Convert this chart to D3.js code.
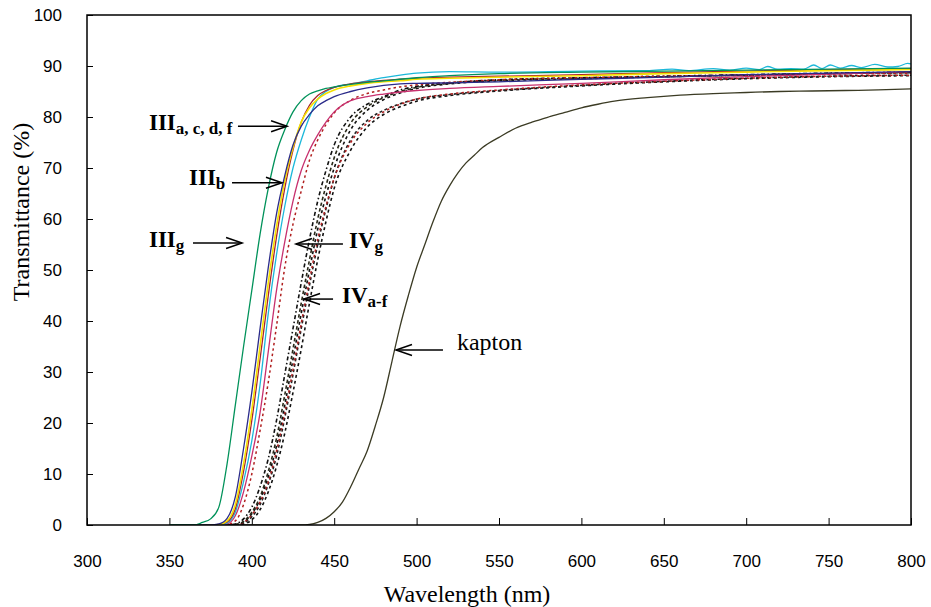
<!DOCTYPE html>
<html><head><meta charset="utf-8">
<script src="https://cdn.jsdelivr.net/npm/d3@7"></script>
<style>body{margin:0;background:#fff}</style>
</head><body>
<svg id="chart" width="931" height="607"></svg>
<script>
// ---------- data ----------
const wavelengths = [350,365,370,375,380,385,390,395,400,405,410,415,420,425,430,435,440,445,450,460,470,480,490,500,520,550,600,650,700,750,800];
const xTicks = [300,350,400,450,500,550,600,650,700,750,800];
const yTicks = [0,10,20,30,40,50,60,70,80,90,100];

const IIIg = [0,0,0.5,1.2,3.5,12,23.5,35,46,57,66,73,77.5,81,83.2,84.5,85.1,85.6,85.9,86.4,86.8,87.1,87.4,87.7,88.1,88.5,88.8,89.0,89.2,89.4,89.6];
const IIIa = [0,0,0,0,0.2,1.3,5.5,15,26,38.5,50.5,61,68.5,74.5,78.2,80.5,82.2,83.2,84,85,85.7,86.2,86.5,86.6,86.7,86.9,87.4,87.8,88.3,88.6,88.9];
const IIIc = [0,0,0,0,0.1,0.8,4,12,22.5,35,47.5,58.5,67.5,74,79,81.8,83.5,84.6,85.3,86.1,86.6,86.9,87.1,87.4,87.6,87.8,88.1,88.5,88.8,89.1,89.3];
const IIId = [0,0,0,0,0.1,0.6,3.2,10.5,20.5,32.5,45,56.5,66,73.5,79,82.3,84.2,85.2,85.8,86.5,86.9,87.2,87.4,87.6,87.8,88.0,88.3,88.7,89.0,89.3,89.5];
const IIIb = [0,0,0,0,0,0.2,1.8,6.5,13.5,22,34,46,55.5,63.5,69.5,73.5,76.5,79,81,83.2,84,84.5,84.9,85.2,85.6,86,86.6,87.3,87.9,88.4,88.9];

const wavelengthsIIIf = [350,365,370,375,380,385,390,395,400,405,410,415,420,425,430,435,440,445,450,460,470,480,490,500,520,550,600,640,655,665,680,690,700,708,713,719,727,735,741,746,751,757,764,770,778,786,792,798,800];
const IIIf = [0,0,0,0,0,0.4,2.5,8.5,16.5,27.5,41.5,53,62.5,70,75.5,80,83.5,85,85.8,86.5,87.1,87.7,88.2,88.6,88.9,88.8,89.0,89.1,89.4,89.1,89.5,89.2,89.6,89.3,89.9,89.4,89.5,89.4,90.2,89.5,90.2,89.6,90.1,89.7,90.3,89.8,89.9,90.5,90.4];

const IVg = [0,0,0,0,0,0.1,0.8,4,10,18.5,28,39,50.5,59,65.5,71.5,75.5,78.5,80.8,83.3,84.6,85.3,85.9,86.3,86.8,87.3,87.7,88,88.2,88.4,88.6];
const IVa = [0,0,0,0,0,0,0.2,1.2,3.5,7.5,13,20.5,29.5,38.5,47.5,56,63.5,69.5,74.5,80,82.5,84,85.3,86,86.7,87.3,87.7,88,88.3,88.6,88.8];
const IVb = [0,0,0,0,0,0,0.1,0.7,2.5,5.5,10.5,17,25.5,34.5,43.5,52,60,66.5,72,78.8,82,83.8,85,85.8,86.6,87.2,87.6,87.9,88.2,88.5,88.7];
const IVc = [0,0,0,0,0,0,0,0.5,2,4.5,8.5,14.5,22,30.5,39.5,48,56,62.5,68,75,78.8,81,82.5,83.5,84.5,85.3,86.3,87,87.6,88,88.2];
const IVd = [0,0,0,0,0,0,0,0.4,1.6,4,8,13.5,21,29.5,38.5,47,55,62,68,75.5,79.3,81.3,82.6,83.5,84.4,85.2,86.2,87,87.6,88,88.2];
const IVe = [0,0,0,0,0,0,0,0.2,1,3,6.5,11.5,18,26,34.5,43.5,52,59.5,66,73.5,78,80.5,82,83.1,84.2,85.1,86.1,86.9,87.5,87.9,88.1];
const IVf = [0,0,0,0,0,0,0.1,0.6,2.2,5,9.5,15.5,23.5,32.5,41.5,50,58,64.5,70,77.5,81.3,83.4,84.7,85.6,86.5,87.1,87.5,87.9,88.2,88.5,88.7];

const wavelengthsKapton = [350,430,435,440,445,450,455,460,465,470,475,480,485,490,495,500,505,510,515,520,525,530,535,540,550,560,570,580,590,600,610,620,640,660,680,700,720,740,760,780,800];
const kapton = [0,0,0.1,0.5,1.3,2.6,4.5,7.5,11,14.5,19.5,25,32,39,45,50.5,55,59.5,63.5,66.5,69,71,72.5,74,76,77.8,79,80,80.9,81.8,82.5,83.1,83.8,84.3,84.6,84.8,85.0,85.1,85.2,85.3,85.5];

// ---------- chart ----------
const W = 931, H = 607;
const m = {left: 87, top: 15, right: 20, bottom: 82};
const svg = d3.select('#chart');
const x = d3.scaleLinear().domain([300, 800]).range([m.left, W - m.right]);
const y = d3.scaleLinear().domain([0, 100]).range([H - m.bottom, m.top]);

svg.append('defs').append('clipPath').attr('id', 'clip')
  .append('rect').attr('x', m.left).attr('y', m.top - 2)
  .attr('width', W - m.left - m.right).attr('height', H - m.top - m.bottom + 2);

const sans = "'Liberation Sans', Arial, sans-serif";
const serif = "'Liberation Serif', 'Times New Roman', serif";

// axes
const xAxis = svg.append('g').attr('transform', `translate(0,${H - m.bottom})`)
  .call(d3.axisBottom(x).tickValues(xTicks).tickSizeInner(-7).tickSizeOuter(0).tickPadding(30));
xAxis.select('.domain').remove();
xAxis.selectAll('text').attr('font-family', sans).attr('font-size', 17).attr('fill', '#000');
xAxis.selectAll('line').attr('stroke', '#000');

const yAxis = svg.append('g').attr('transform', `translate(${m.left},0)`)
  .call(d3.axisLeft(y).tickValues(yTicks).tickSizeInner(-6).tickSizeOuter(0).tickPadding(25));
yAxis.select('.domain').remove();
yAxis.selectAll('text').attr('font-family', sans).attr('font-size', 17).attr('fill', '#000');
yAxis.selectAll('line').attr('stroke', '#000');

// series
const series = [
  {wl: wavelengthsKapton, v: kapton, color: '#3b3b24', width: 1.3, dash: null},
  {wl: wavelengths, v: IVe, color: '#111', width: 1.6, dash: '3,3'},
  {wl: wavelengths, v: IVd, color: '#222', width: 1.6, dash: '3,2.5'},
  {wl: wavelengths, v: IVc, color: '#b01e1e', width: 1.5, dash: '2.5,3'},
  {wl: wavelengths, v: IVf, color: '#111', width: 1.6, dash: '3,3'},
  {wl: wavelengths, v: IVb, color: '#2a2a1a', width: 1.6, dash: '3.5,2.5'},
  {wl: wavelengths, v: IVa, color: '#111', width: 1.6, dash: '4,2.5,1.5,2.5'},
  {wl: wavelengths, v: IVg, color: '#b01e1e', width: 1.5, dash: '2.5,3'},
  {wl: wavelengths, v: IIIb, color: '#c7306e', width: 1.3, dash: null},
  {wl: wavelengthsIIIf, v: IIIf, color: '#1cb8da', width: 1.3, dash: null},
  {wl: wavelengths, v: IIId, color: '#a8232b', width: 1.3, dash: null},
  {wl: wavelengths, v: IIIc, color: '#f5e000', width: 1.6, dash: null},
  {wl: wavelengths, v: IIIa, color: '#2b2b8a', width: 1.3, dash: null},
  {wl: wavelengths, v: IIIg, color: '#00925a', width: 1.3, dash: null}
];

const line = d3.line().x(d => x(d[0])).y(d => y(d[1])).curve(d3.curveMonotoneX);
const plot = svg.append('g').attr('clip-path', 'url(#clip)');
series.forEach(s => {
  const pts = s.wl.map((w, i) => [w, s.v[i]]);
  plot.append('path').datum(pts).attr('d', line)
    .attr('fill', 'none').attr('stroke', s.color).attr('stroke-width', s.width)
    .attr('stroke-dasharray', s.dash);
});

// frame
svg.append('rect').attr('x', m.left).attr('y', m.top)
  .attr('width', W - m.left - m.right).attr('height', H - m.top - m.bottom)
  .attr('fill', 'none').attr('stroke', '#000').attr('stroke-width', 1.5);

// annotations (positions in data units)
const annotations = [
  {main: 'III', sub: 'a, c, d, f', tx: 337.6, ty: 77.5, a0: 391.6, a1: 421.4, ay: 78.2, bold: true},
  {main: 'III', sub: 'b', tx: 361.9, ty: 66.7, a0: 388, a1: 418.3, ay: 67.1, bold: true},
  {main: 'III', sub: 'g', tx: 337.6, ty: 54.5, a0: 364.3, a1: 394.1, ay: 55.3, bold: true},
  {main: 'IV', sub: 'g', tx: 459, ty: 54.3, a0: 455.3, a1: 426.8, ay: 55.1, bold: true},
  {main: 'IV', sub: 'a-f', tx: 454.7, ty: 43.5, a0: 449.3, a1: 431.7, ay: 44.3, bold: true},
  {main: 'kapton', sub: '', tx: 524.5, ty: 34.3, a0: 516, a1: 487.5, ay: 34.3, bold: false}
];
const ann = svg.append('g');
annotations.forEach(a => {
  const t = ann.append('text').attr('x', x(a.tx)).attr('y', y(a.ty))
    .attr('font-family', serif).attr('font-weight', a.bold ? 'bold' : 'normal')
    .attr('font-size', a.bold ? 23 : 24).attr('fill', '#000');
  t.append('tspan').text(a.main);
  if (a.sub) t.append('tspan').attr('font-size', 17).attr('dy', 4).text(a.sub);
  const x0 = x(a.a0), x1 = x(a.a1), yy = y(a.ay);
  const dir = Math.sign(x1 - x0);
  ann.append('line').attr('x1', x0).attr('y1', yy).attr('x2', x1).attr('y2', yy)
    .attr('stroke', '#000').attr('stroke-width', 1.5);
  ann.append('path')
    .attr('d', `M${x1 - dir * 16},${yy - 5.5}L${x1},${yy}L${x1 - dir * 16},${yy + 5.5}`)
    .attr('fill', 'none').attr('stroke', '#000').attr('stroke-width', 1.5);
});

// axis titles
svg.append('text').attr('x', 467).attr('y', 602).attr('text-anchor', 'middle')
  .attr('font-family', serif).attr('font-size', 24).text('Wavelength (nm)');
svg.append('text').attr('transform', `translate(29,212) rotate(-90)`).attr('text-anchor', 'middle')
  .attr('font-family', serif).attr('font-size', 24).text('Transmittance (%)');
</script></body></html>
